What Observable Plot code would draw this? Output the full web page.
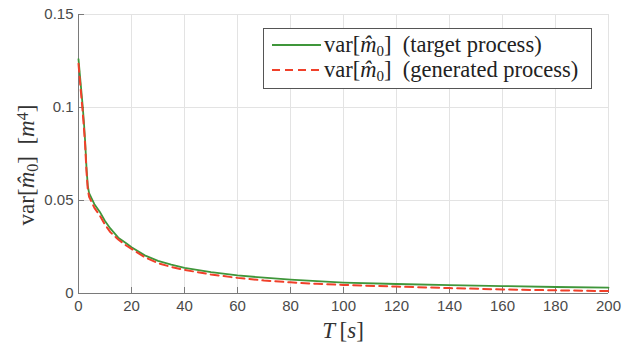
<!DOCTYPE html>
<html>
<head>
<meta charset="utf-8">
<script src="https://cdn.jsdelivr.net/npm/d3@7"></script>
<script src="https://cdn.jsdelivr.net/npm/@observablehq/plot@0.6"></script>
<style>
  body { margin: 0; background: #fff; }
</style>
</head>
<body>
<div id="wrap"></div>
<script>
const T =        [0, 0.5, 1, 1.5, 2, 2.5, 3, 3.5, 4, 5, 6, 8, 10, 12, 15, 18, 20, 25, 30, 35, 40, 50, 60, 70, 80, 90, 100, 120, 140, 160, 180, 200];
const target =   [0.126, 0.118, 0.110, 0.102, 0.093, 0.082, 0.068, 0.058, 0.054, 0.051, 0.048, 0.044, 0.039, 0.035, 0.030, 0.027, 0.0249, 0.0205, 0.0175, 0.0155, 0.0138, 0.0115, 0.0097, 0.0085, 0.0075, 0.0066, 0.0059, 0.0051, 0.0045, 0.0040, 0.0035, 0.0032];
const generated = [0.1235, 0.115, 0.107, 0.099, 0.090, 0.080, 0.066, 0.056, 0.052, 0.049, 0.046, 0.042, 0.037, 0.033, 0.029, 0.0258, 0.0240, 0.0195, 0.0163, 0.0143, 0.0127, 0.0102, 0.0084, 0.0070, 0.0060, 0.0052, 0.0046, 0.0037, 0.0029, 0.0022, 0.0017, 0.0013];
const xTicks = [0, 20, 40, 60, 80, 100, 120, 140, 160, 180, 200];
const yTicks = [0, 0.05, 0.1, 0.15];
const yTickLabels = ["0", "0.05", "0.1", "0.15"];
const seriesNames = ["(target process)", "(generated process)"];

const greenData = T.map((t, i) => ({T: t, v: target[i]}));
const redData = T.map((t, i) => ({T: t, v: generated[i]}));

const W = 624, H = 347, mL = 78, mR = 16, mT = 14, mB = 54;
const frameW = W - mL - mR, frameH = H - mT - mB;
const SERIF = "Liberation Serif, DejaVu Serif, serif";
const GREEN = "#3f963a", RED = "#f0402a";

const chart = Plot.plot({
  width: W, height: H,
  marginLeft: mL, marginRight: mR, marginTop: mT, marginBottom: mB,
  style: { fontFamily: "Liberation Sans, Arial, sans-serif", fontSize: "15px", color: "#4a4a4a", background: "#fff" },
  x: { domain: [0, 200], ticks: xTicks, label: null },
  y: { domain: [0, 0.15], ticks: yTicks, label: null },
  marks: [
    Plot.gridX(xTicks, { stroke: "#e3e3e3", strokeOpacity: 1 }),
    Plot.gridY(yTicks, { stroke: "#e3e3e3", strokeOpacity: 1 }),
    Plot.ruleX([0], { stroke: "#7a7a7a", strokeWidth: 1 }),
    Plot.ruleY([0], { stroke: "#7a7a7a", strokeWidth: 1 }),
    Plot.tickX(xTicks, { x: d => d, insetTop: frameH - 6, stroke: "#7a7a7a" }),
    Plot.tickY(yTicks, { y: d => d, insetRight: frameW - 6, stroke: "#7a7a7a" }),
    Plot.axisX(xTicks, { tickSize: 0, tickPadding: 7, fill: "#4a4a4a", tickFormat: d => String(d) }),
    Plot.axisY(yTicks, { tickSize: 0, tickPadding: 5, fill: "#4a4a4a", tickFormat: (d, i) => yTickLabels[i] }),
    Plot.line(greenData, { x: "T", y: "v", stroke: GREEN, strokeWidth: 1.8 }),
    Plot.line(redData, { x: "T", y: "v", stroke: RED, strokeWidth: 2, strokeDasharray: "8,5" })
  ]
});

document.getElementById("wrap").appendChild(chart);
const svg = d3.select(chart);

// axis titles
const xl = svg.append("text")
  .attr("x", 343).attr("y", 338)
  .attr("text-anchor", "middle")
  .attr("font-family", SERIF).attr("font-size", 23).attr("fill", "#333");
xl.append("tspan").attr("font-style", "italic").text("T");
xl.append("tspan").text("\u2009[");
xl.append("tspan").attr("font-style", "italic").text("s");
xl.append("tspan").text("]");

const yl = svg.append("text")
  .attr("transform", "translate(34,165) rotate(-90)")
  .attr("text-anchor", "middle")
  .attr("font-family", SERIF).attr("font-size", 23).attr("fill", "#333");
yl.append("tspan").text("var[");
yl.append("tspan").attr("font-style", "italic").text("m\u0302");
yl.append("tspan").attr("baseline-shift", "-25%").attr("font-size", 16).text("0");
yl.append("tspan").text("]\u2002[");
yl.append("tspan").attr("font-style", "italic").text("m");
yl.append("tspan").attr("baseline-shift", "40%").attr("font-size", 16).text("4");
yl.append("tspan").text("]");

// legend (drawn in the SVG)
const lg = svg.append("g").attr("text-anchor", "start");
lg.append("rect").attr("x", 263.5).attr("y", 28.5).attr("width", 328).attr("height", 60)
  .attr("fill", "#fff").attr("stroke", "#555").attr("stroke-width", 1);
[[GREEN, null, 1.8], [RED, "8,5", 2]].forEach(([c, dash, sw], i) => {
  const cy = 45 + i * 25;
  const ln = lg.append("line").attr("x1", 272).attr("x2", 321).attr("y1", cy).attr("y2", cy)
    .attr("stroke", c).attr("stroke-width", sw);
  if (dash) ln.attr("stroke-dasharray", dash);
  const t = lg.append("text").attr("x", 324).attr("y", cy + 7).attr("text-anchor", "start")
    .attr("font-family", SERIF).attr("font-size", 22.5).attr("fill", "#222");
  t.append("tspan").text("var[");
  t.append("tspan").attr("font-style", "italic").text("m\u0302");
  t.append("tspan").attr("baseline-shift", "-25%").attr("font-size", 15).text("0");
  t.append("tspan").text("]\u00a0\u00a0" + seriesNames[i]);
});
</script>
</body>
</html>
